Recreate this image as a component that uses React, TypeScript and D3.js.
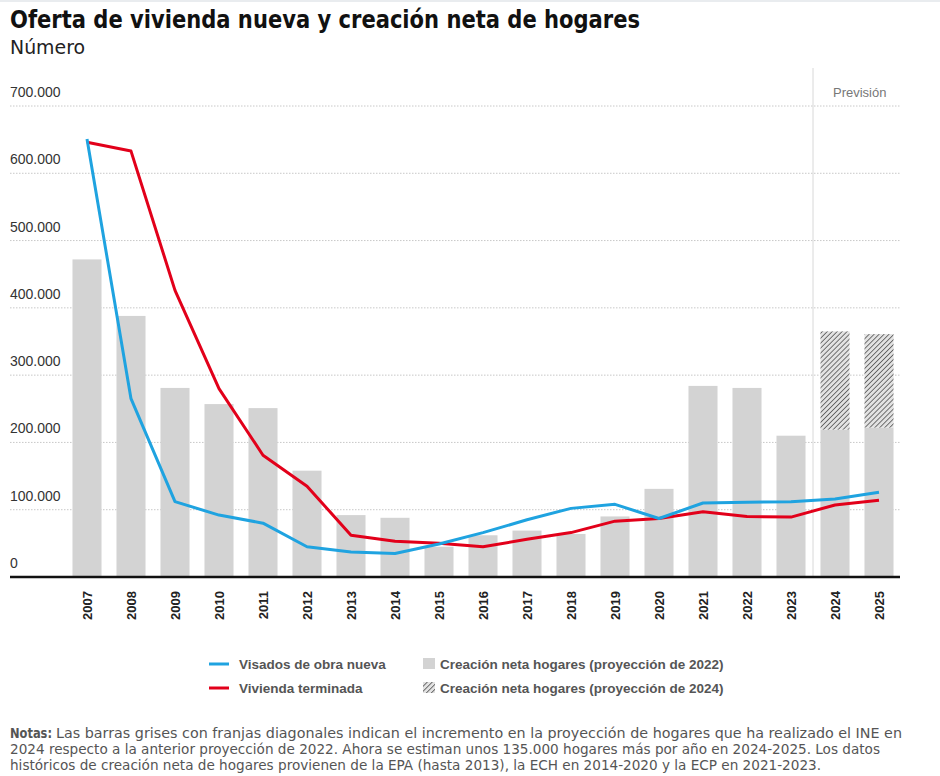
import React from "react";
import * as d3 from "d3";

const years = ["2007","2008","2009","2010","2011","2012","2013","2014","2015","2016","2017","2018","2019","2020","2021","2022","2023","2024","2025"];
const hogares2022 = [472000, 388000, 281000, 257000, 251000, 158000, 92000, 88000, 45000, 62000, 69000, 64000, 90000, 131000, 284000, 281000, 210000, 219000, 222000];
const hogares2024 = [null, null, null, null, null, null, null, null, null, null, null, null, null, null, null, null, null, 365000, 361000];
const visados = [651000, 265000, 112000, 92000, 80000, 45000, 37000, 35000, 49000, 66000, 85000, 102000, 108000, 87000, 110000, 111000, 112000, 116000, 126000];
const terminada = [646000, 633000, 426000, 280000, 181000, 135000, 62000, 53000, 50000, 45000, 56000, 66000, 83000, 87000, 97000, 90000, 89000, 107000, 114000];
const yTicks = [0, 100000, 200000, 300000, 400000, 500000, 600000, 700000];

const title = "Oferta de vivienda nueva y creación neta de hogares";
const subtitle = "Número";
const legendLines = ["Visados de obra nueva", "Vivienda terminada"];
const legendBars = ["Creación neta hogares (proyección de 2022)", "Creación neta hogares (proyección de 2024)"];
const forecastLabel = "Previsión";
const notesLabel = "Notas:";
const notes = [
  "Las barras grises con franjas diagonales indican el incremento en la proyección de hogares que ha realizado el INE en",
  "2024 respecto a la anterior proyección de 2022. Ahora se estiman unos 135.000 hogares más por año en 2024-2025. Los datos",
  "históricos de creación neta de hogares provienen de la EPA (hasta 2013), la ECH en 2014-2020 y la ECP en 2021-2023.",
];

const BLUE = "#1fa3e0";
const RED = "#e2001a";
const BAR = "#d3d3d3";
const SANS = "'Liberation Sans', Arial, Helvetica, sans-serif";
const NARROW = "'Liberation Sans Narrow', 'Arial Narrow', 'DejaVu Sans Condensed', 'Liberation Sans', sans-serif";

const locale = d3.formatLocale({ decimal: ",", thousands: ".", grouping: [3], currency: ["", "€"] });
const fmt = locale.format(",d");

export default function App() {
  const W = 940, H = 776;
  const x = d3.scaleBand<string>().domain(years).range([65, 901]).paddingInner(0.34).paddingOuter(0.17);
  const y = d3.scaleLinear().domain([0, 700000]).range([577, 106]);
  const cx = (yr: string) => (x(yr) as number) + x.bandwidth() / 2;

  const line = d3.line<number>()
    .x((_, i) => cx(years[i]))
    .y((d) => y(d))
    .curve(d3.curveLinear);

  const forecastX = (cx("2023") + cx("2024")) / 2;

  return (
    <svg width={W} height={H} style={{ position: "absolute", left: 0, top: 0, background: "#fff" }}>
      <defs>
        <pattern id="hatch" patternUnits="userSpaceOnUse" width="3.5" height="3.5" patternTransform="rotate(45)">
          <rect width="3.5" height="3.5" fill="#e2e2e2" />
          <line x1="0" y1="0" x2="0" y2="3.5" stroke="#4a4a4a" strokeWidth="1.5" />
        </pattern>
      </defs>
      <rect x={0} y={0} width={W} height={H} fill="#fff" />
      <rect x={0} y={0} width={W} height={2} fill="#e9ecef" />

      <text x={10} y={28} fontFamily={NARROW} fontWeight="bold" fontSize={25} fill="#111"
        textLength={630} lengthAdjust="spacingAndGlyphs">{title}</text>
      <text x={10} y={54} fontFamily={NARROW} fontSize={19} fill="#222"
        textLength={75} lengthAdjust="spacingAndGlyphs">{subtitle}</text>

      {/* gridlines */}
      {yTicks.filter((t) => t > 0).map((t) => (
        <line key={t} x1={10} x2={900} y1={y(t)} y2={y(t)} stroke="#c8c8c8" strokeWidth={1} strokeDasharray="1.5,1.5" />
      ))}
      {yTicks.map((t) => (
        <text key={"l" + t} x={10} y={y(t) - 9} fontFamily={SANS} fontSize={14} fill="#333">{fmt(t)}</text>
      ))}

      {/* forecast separator */}
      <line x1={forecastX} x2={forecastX} y1={68} y2={577} stroke="#d8d8d8" strokeWidth={1} />
      <text x={833} y={97} fontFamily={SANS} fontSize={13} fill="#777">{forecastLabel}</text>

      {/* bars */}
      {years.map((yr, i) => (
        <rect key={"b" + yr} x={x(yr)} y={y(hogares2022[i])} width={x.bandwidth()} height={y(0) - y(hogares2022[i])} fill={BAR} />
      ))}
      {years.map((yr, i) => hogares2024[i] == null ? null : (
        <rect key={"h" + yr} x={x(yr)} y={y(hogares2024[i] as number)} width={x.bandwidth()}
          height={y(hogares2022[i]) - y(hogares2024[i] as number)} fill="url(#hatch)" />
      ))}

      {/* axis */}
      <line x1={10} x2={900} y1={577} y2={577} stroke="#111" strokeWidth={2.5} />

      {/* lines */}
      <path d={line(terminada) || ""} fill="none" stroke={RED} strokeWidth={3} strokeLinejoin="round" />
      <path d={line(visados) || ""} fill="none" stroke={BLUE} strokeWidth={3} strokeLinejoin="round" />

      {/* year labels */}
      {years.map((yr) => (
        <text key={"y" + yr} transform={`translate(${cx(yr) + 4.5},591) rotate(-90)`} textAnchor="end"
          fontFamily={SANS} fontWeight="bold" fontSize={13} fill="#222">{yr}</text>
      ))}

      {/* legend */}
      <line x1={209} x2={229} y1={664} y2={664} stroke={BLUE} strokeWidth={3} />
      <text x={239} y={669} fontFamily={SANS} fontWeight="bold" fontSize={13.5} fill="#555">{legendLines[0]}</text>
      <line x1={209} x2={229} y1={688} y2={688} stroke={RED} strokeWidth={3} />
      <text x={239} y={693} fontFamily={SANS} fontWeight="bold" fontSize={13.5} fill="#555">{legendLines[1]}</text>
      <rect x={423} y={658} width={12} height={11} fill={BAR} />
      <text x={440} y={669} fontFamily={SANS} fontWeight="bold" fontSize={13.5} fill="#555">{legendBars[0]}</text>
      <rect x={423} y={682} width={12} height={11} fill="url(#hatch)" />
      <text x={440} y={693} fontFamily={SANS} fontWeight="bold" fontSize={13.5} fill="#555">{legendBars[1]}</text>

      {/* notes */}
      <text x={10} y={738} fontFamily={NARROW} fontWeight="bold" fontSize={14} fill="#555"
        textLength={42} lengthAdjust="spacingAndGlyphs">{notesLabel}</text>
      <text x={56} y={738} fontFamily={NARROW} fontSize={14} fill="#555" textLength={846} lengthAdjust="spacingAndGlyphs">{notes[0]}</text>
      <text x={10} y={754} fontFamily={NARROW} fontSize={14} fill="#555" textLength={870} lengthAdjust="spacingAndGlyphs">{notes[1]}</text>
      <text x={10} y={770} fontFamily={NARROW} fontSize={14} fill="#555" textLength={811} lengthAdjust="spacingAndGlyphs">{notes[2]}</text>
    </svg>
  );
}
